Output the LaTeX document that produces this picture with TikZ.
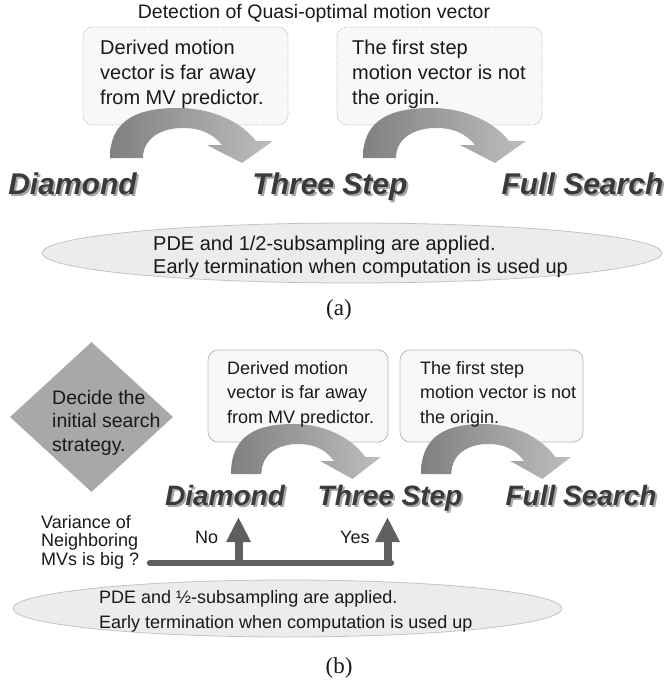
\documentclass[tikz,border=0pt]{standalone}
\usepackage{fontspec}
\setmainfont{Liberation Sans}
\newfontfamily\capfont{Liberation Serif}
\usetikzlibrary{shapes.geometric,arrows.meta}
\definecolor{txt}{RGB}{25,25,25}
\definecolor{boxfill}{RGB}{248,248,248}
\definecolor{boxline}{RGB}{185,185,185}
\definecolor{ellfill}{RGB}{236,236,236}
\definecolor{ellline}{RGB}{195,195,195}
\definecolor{diafill}{RGB}{168,168,168}
\definecolor{arrdark}{RGB}{128,128,128}
\definecolor{arrlight}{RGB}{190,190,190}
\definecolor{lblcol}{RGB}{58,58,58}
\definecolor{shadcol}{RGB}{165,165,165}
\definecolor{flowcol}{RGB}{95,95,95}
\begin{document}
\begin{tikzpicture}[x=1pt,y=-1pt,
  every node/.style={inner sep=0pt, text=txt},
  boxa/.style={rectangle, draw=boxline, densely dotted, fill=boxfill, rounded corners=10pt, line width=0.8pt},
  boxb/.style={rectangle, draw=boxline, fill=boxfill, rounded corners=10pt, line width=0.8pt},
  ell/.style={ellipse, draw=ellline, fill=ellfill, line width=0.8pt},
  txtblock/.style={anchor=north west, align=left},
  lblA/.style={anchor=base, font=\fontsize{30}{36}\selectfont\bfseries\itshape, text=lblcol},
  lblB/.style={anchor=base, font=\fontsize{28}{34}\selectfont\bfseries\itshape, text=lblcol},
  flowbar/.style={draw=flowcol, line width=6.5pt, line cap=round},
  uparrow/.style={draw=flowcol, line width=8pt, -{Triangle[width=23pt,length=25pt]}},
  curv/.pic={\shade[left color=arrdark, right color=arrlight]
     (0,0) .. controls (0,-40) and (30,-50) .. (68,-50)
     .. controls (105,-50) and (133,-34) .. (146,-17)
     -- (163,-17) -- (132,5) -- (97,-13) -- (112,-13)
     .. controls (102,-25) and (90,-30) .. (73,-30)
     .. controls (50,-30) and (33,-19) .. (33,0) -- cycle;}
]
\useasboundingbox (0,0) rectangle (670,680);

% ---------- (a) ----------
\node[anchor=base, font=\fontsize{19.5}{23}\selectfont] (title) at (314,18) {Detection of Quasi-optimal motion vector};

\node[boxa, minimum width=205pt, minimum height=98pt] (b1) at (185.5,76) {};
\node[boxa, minimum width=205pt, minimum height=98pt] (b2) at (439.5,76) {};

\pic at (110,158) {curv};
\pic at (363,158) {curv};

\node[txtblock, font=\fontsize{20}{25}\selectfont] (b1t) at (100,40) {Derived motion\\vector is far away\\from MV predictor.};
\node[txtblock, font=\fontsize{20}{25}\selectfont] (b2t) at (352,40) {The first step\\motion vector is not\\the origin.};

\node[lblA, text=shadcol] (dAs) at (74.5,196.5) {Diamond};
\node[lblA] (dA) at (72.5,194.5) {Diamond};
\node[lblA, text=shadcol] (tAs) at (332,196.5) {Three Step};
\node[lblA] (tA) at (330,194.5) {Three Step};
\node[lblA, text=shadcol] (fAs) at (584.5,196.5) {Full Search};
\node[lblA] (fA) at (582.5,194.5) {Full Search};

\node[ell, minimum width=620pt, minimum height=60pt] (eA) at (352,253) {};
\node[txtblock, font=\fontsize{20}{23}\selectfont] (eAt) at (153,235.5) {PDE and 1/2-subsampling are applied.\\Early termination when computation is used up};

\node[font=\capfont\fontsize{23}{27}\selectfont] (capA) at (339,310) {(a)};

% ---------- (b) ----------
\node[diamond, fill=diafill, minimum width=163pt, minimum height=150pt] (dec) at (91.5,417) {};
\node[txtblock, font=\fontsize{19.5}{23.5}\selectfont] (dect) at (52,390) {Decide the\\initial search\\strategy.};

\node[boxb, minimum width=180pt, minimum height=92pt] (b3) at (298,396) {};
\node[boxb, minimum width=183pt, minimum height=92pt] (b4) at (491.5,396) {};

\pic[xscale=0.92] at (231,474) {curv};
\pic[xscale=0.92] at (421,474) {curv};

\node[txtblock, font=\fontsize{18}{24.5}\selectfont] (b3t) at (227,361) {Derived motion\\vector is far away\\from MV predictor.};
\node[txtblock, font=\fontsize{18}{24.5}\selectfont] (b4t) at (420,361) {The first step\\motion vector is not\\the origin.};

\node[lblB, text=shadcol] (dBs) at (227,507) {Diamond};
\node[lblB] (dB) at (225,505) {Diamond};
\node[lblB, text=shadcol] (tBs) at (392,507) {Three Step};
\node[lblB] (tB) at (390,505) {Three Step};
\node[lblB, text=shadcol] (fBs) at (583,507) {Full Search};
\node[lblB] (fB) at (581,505) {Full Search};

\node[txtblock, font=\fontsize{18}{18.5}\selectfont] (var) at (41,515) {Variance of\\Neighboring\\MVs is big ?};
\node[anchor=base west, font=\fontsize{18}{22}\selectfont] (no) at (195,543) {No};
\node[anchor=base west, font=\fontsize{18}{22}\selectfont] (yes) at (340,543) {Yes};

\coordinate (barL) at (150,563);
\coordinate (barR) at (391,563);
\coordinate (noB) at (238.5,563);
\coordinate (noT) at (238.5,517);
\coordinate (yesB) at (387.5,563);
\coordinate (yesT) at (387.5,517);
\draw[flowbar] (barL) -- (barR);
\draw[uparrow] (noB) -- (noT);
\draw[uparrow] (yesB) -- (yesT);

\node[ell, minimum width=549pt, minimum height=57pt] (eB) at (287.5,608.5) {};
\node[txtblock, font=\fontsize{18}{25}\selectfont] (eBt) at (99,590) {PDE and ½-subsampling are applied.\\Early termination when computation is used up};

\node[font=\capfont\fontsize{23}{27}\selectfont] (capB) at (339,668) {(b)};
\end{tikzpicture}
\end{document}
